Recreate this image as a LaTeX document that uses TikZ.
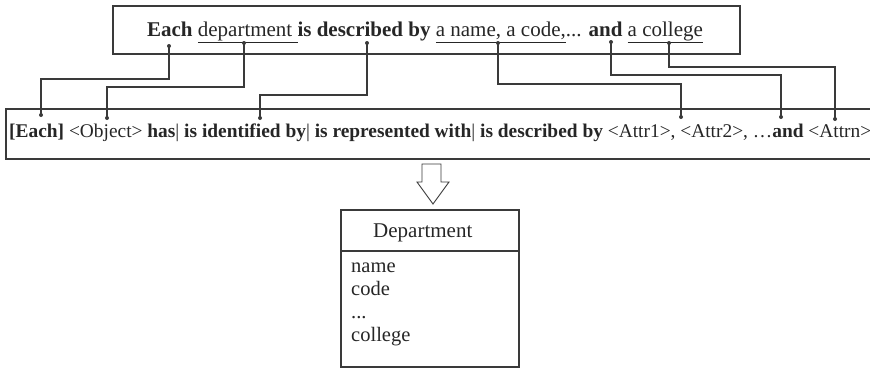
\documentclass[tikz,border=0pt]{standalone}
\usepackage{fontspec}
\setmainfont{Liberation Serif}
\definecolor{ink}{HTML}{262626}
\definecolor{wire}{HTML}{3A3A3A}
\newcommand{\myul}[1]{\underline{#1\vphantom{gp}}}
\tikzset{
  boxline/.style={draw=wire, line width=1.1pt},
  wirepath/.style={draw=wire, line width=1.1pt},
  dotmark/.style={circle, fill=wire, inner sep=0pt, minimum size=4pt},
  txt/.style={inner sep=0pt, text=ink},
}
\begin{document}
\begin{tikzpicture}[x=1pt,y=-1pt]
\useasboundingbox (0,0) rectangle (870,368);
% top sentence box
\draw[boxline] (113,6) rectangle (740,54);
\node[txt, anchor=base] (sent) at (425,36) {\fontsize{21}{25}\selectfont\textbf{Each} \myul{department\ }\textbf{is described by} \myul{a name, a code,}... \textbf{and} \myul{a college}};
% template box (open at right)
\draw[boxline] (870,109) -- (6,109) -- (6,159) -- (870,159);
\node[txt, anchor=base west] (tmpl) at (9,137) {\fontsize{19.4}{23}\selectfont\textbf{[Each]} <Object> \textbf{has}| \textbf{is identified by}| \textbf{is represented with}| \textbf{is described by} <Attr1>, <Attr2>, …\textbf{and} <Attrn>};
% top dots
\coordinate (t1) at (169,46);
\coordinate (t2) at (244,43);
\coordinate (t3) at (367,43);
\coordinate (t4) at (498,43);
\coordinate (t5) at (611,42);
\coordinate (t6) at (669,43);
% bottom dots
\coordinate (b1) at (41,115);
\coordinate (b2) at (107,118);
\coordinate (b3) at (260,118);
\coordinate (b4) at (681,117);
\coordinate (b5) at (781,117);
\coordinate (b6) at (835,119);
\draw[wirepath] (t1) -- (169,79) -| (b1);
\draw[wirepath] (t2) -- (244,87) -| (b2);
\draw[wirepath] (t3) -- (367,95) -| (b3);
\draw[wirepath] (t4) -- (498,84) -| (b4);
\draw[wirepath] (t5) -- (611,75) -| (b5);
\draw[wirepath] (t6) -- (669,67) -| (b6);
\foreach \p in {t1,t2,t3,t4,t5,t6,b1,b2,b3,b4,b5,b6} \node[dotmark] at (\p) {};
% hollow arrow
\draw[draw=wire, line width=0.9pt, fill=white] (422,164) -- (441,164) -- (441,182) -- (449,182) -- (433,204) -- (417,182) -- (422,182) -- cycle;
% class box
\draw[boxline] (341,210) rectangle (519,367);
\draw[boxline] (341,251) -- (519,251);
\node[txt, anchor=base west] (cname) at (373,237) {\fontsize{21}{25}\selectfont Department};
\node[txt, anchor=base west] (a1) at (351,272) {\fontsize{20.5}{24}\selectfont name};
\node[txt, anchor=base west] (a2) at (351,295) {\fontsize{20.5}{24}\selectfont code};
\node[txt, anchor=base west] (a3) at (351,318) {\fontsize{20.5}{24}\selectfont ...};
\node[txt, anchor=base west] (a4) at (351,341) {\fontsize{20.5}{24}\selectfont college};
\end{tikzpicture}
\end{document}
